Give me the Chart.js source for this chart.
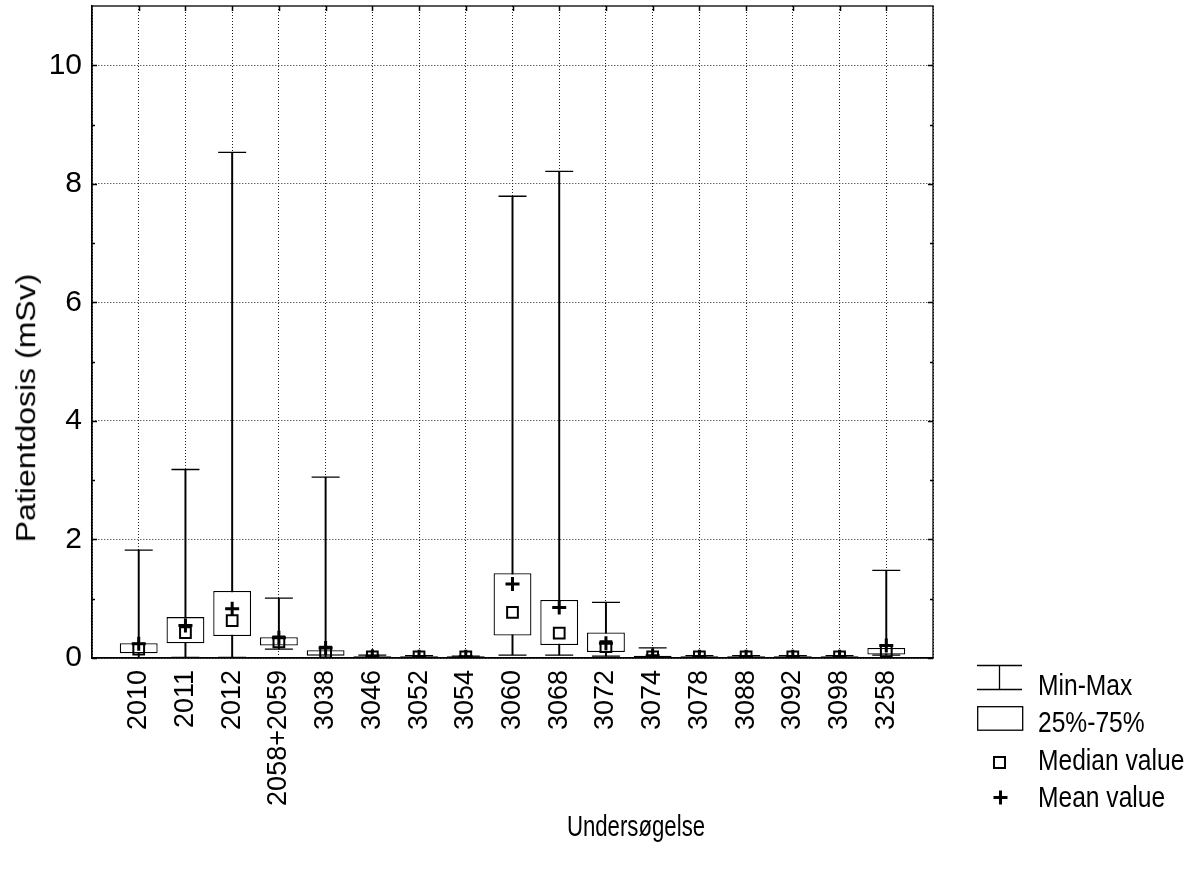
<!DOCTYPE html>
<html><head><meta charset="utf-8">
<script src="https://cdn.jsdelivr.net/npm/chart.js@4.4.1/dist/chart.umd.min.js"></script>
<style>
html,body{margin:0;padding:0;background:#fff;}
#wrap{position:relative;width:1199px;height:893px;overflow:hidden;}
#c{position:absolute;left:0;top:0;}
.t{position:absolute;color:#000;white-space:nowrap;line-height:30px;font-family:"Liberation Sans",Arial,sans-serif;}
.lg{font-size:30px;transform:scaleX(0.82);transform-origin:0 50%;}
.ic{position:absolute;}
</style></head><body>
<div id="wrap">
<canvas id="c" width="1199" height="893"></canvas>
<div class="t" style="font-size:32px;left:25px;top:408px;transform:translate(-50%,-50%) scaleX(0.88) rotate(-90deg);">Patientdosis (mSv)</div>
<div class="t" style="font-size:30px;left:636px;top:826px;transform:translate(-50%,-50%) scaleX(0.74);">Undersøgelse</div>

<svg class="ic" style="left:977px;top:664px" width="46" height="27"><path d="M0 1.5H45M22.5 1.5V25.5M0 25.5H45" stroke="#000" stroke-width="1.3" fill="none"/></svg>
<div class="t lg" style="left:1038px;top:670px;">Min-Max</div>
<svg class="ic" style="left:977px;top:706px" width="47" height="26"><rect x="0.7" y="0.7" width="45" height="23.5" stroke="#000" stroke-width="1.3" fill="none"/></svg>
<div class="t lg" style="left:1038px;top:707px;">25%-75%</div>
<svg class="ic" style="left:993px;top:756px" width="14" height="14"><rect x="1" y="1" width="11" height="11" stroke="#000" stroke-width="2" fill="none"/></svg>
<div class="t lg" style="left:1038px;top:745px;">Median value</div>
<svg class="ic" style="left:993px;top:790px" width="15" height="15"><path d="M7.5 0.5V14.5M0.5 7.5H14.5" stroke="#000" stroke-width="3" fill="none"/></svg>
<div class="t lg" style="left:1038px;top:782px;">Mean value</div>
</div>
<script>
const categories = ['2010','2011','2012','2058+2059','3038','3046','3052','3054','3060','3068','3072','3074','3078','3088','3092','3098','3258'];
const minVals    = [0.00, 0.01, 0.01, 0.15, 0.00, 0.00, 0.00, 0.00, 0.05, 0.05, 0.03, 0.00, 0.00, 0.00, 0.00, 0.00, 0.05];
const q1Vals     = [0.08, 0.25, 0.37, 0.21, 0.04, 0.01, 0.01, 0.01, 0.38, 0.22, 0.10, 0.01, 0.01, 0.01, 0.01, 0.01, 0.06];
const medianVals = [0.15, 0.43, 0.63, 0.27, 0.10, 0.02, 0.02, 0.02, 0.77, 0.42, 0.19, 0.02, 0.02, 0.02, 0.02, 0.02, 0.11];
const meanVals   = [0.24, 0.55, 0.83, 0.34, 0.17, 0.03, 0.02, 0.02, 1.25, 0.85, 0.25, 0.04, 0.02, 0.02, 0.02, 0.02, 0.21];
const q3Vals     = [0.25, 0.69, 1.13, 0.35, 0.13, 0.03, 0.03, 0.03, 1.43, 0.98, 0.43, 0.04, 0.03, 0.03, 0.03, 0.03, 0.17];
const maxVals    = [1.82, 3.18, 8.53, 1.01, 3.05, 0.05, 0.04, 0.03, 7.79, 8.21, 0.94, 0.17, 0.04, 0.04, 0.04, 0.04, 1.48];
const yTickValues = [0, 2, 4, 6, 8, 10];
const yMinorValues = [1, 3, 5, 7, 9];

const labels = ['', ...categories, ''];
const pad = a => [null, ...a, null];
const boxData = categories.map((c, i) => [q1Vals[i], q3Vals[i]]);
const whiskerData = categories.map((c, i) => [minVals[i], maxVals[i]]);

const REG = '"Liberation Sans", Arial, sans-serif';

const frame = {
  id: 'frame',
  afterDraw(chart) {
    const {ctx, chartArea: a, scales} = chart;
    ctx.save();
    ctx.strokeStyle = '#000';
    ctx.lineWidth = 1.3;
    ctx.strokeRect(a.left, a.top, a.right - a.left, a.bottom - a.top);
    ctx.lineWidth = 1.5;
    ctx.beginPath();
    yTickValues.forEach(v => {
      const y = Math.round(scales.y.getPixelForValue(v)) + 0.5;
      ctx.moveTo(a.left, y); ctx.lineTo(a.left + 5, y);
      ctx.moveTo(a.right, y); ctx.lineTo(a.right - 5, y);
    });
    yMinorValues.forEach(v => {
      const y = Math.round(scales.y.getPixelForValue(v)) + 0.5;
      ctx.moveTo(a.left, y); ctx.lineTo(a.left + 3, y);
      ctx.moveTo(a.right, y); ctx.lineTo(a.right - 3, y);
    });
    categories.forEach((c, i) => {
      const x = Math.round(scales.x.getPixelForValue(i + 1)) + 0.5;
      ctx.moveTo(x, a.top); ctx.lineTo(x, a.top + 5);
    });
    ctx.stroke();
    ctx.restore();
  }
};

new Chart(document.getElementById('c'), {
  type: 'bar',
  data: {
    labels,
    datasets: [
      {type: 'line', label: 'Mean value', data: pad(meanVals), showLine: false, pointStyle: 'cross',
       pointRadius: 7, pointBorderWidth: 3, borderColor: '#000', backgroundColor: '#000', order: 0},
      {type: 'line', label: 'Median value', data: pad(medianVals), showLine: false, pointStyle: 'rect',
       pointRadius: 7.6, pointBorderWidth: 2, borderColor: '#000', backgroundColor: 'rgba(0,0,0,0)', order: 1},
      {type: 'line', label: 'Max', data: pad(maxVals), showLine: false, pointStyle: 'line',
       pointRadius: 14, pointBorderWidth: 1.3, borderColor: '#000', order: 2},
      {type: 'line', label: 'Min', data: pad(minVals), showLine: false, pointStyle: 'line',
       pointRadius: 14, pointBorderWidth: 1.3, borderColor: '#000', order: 2},
      {type: 'bar', label: '25%-75%', data: pad(boxData), backgroundColor: '#fff', borderColor: '#000',
       borderWidth: 1.3, borderSkipped: false, grouped: false, barPercentage: 0.81, categoryPercentage: 1, order: 3},
      {type: 'bar', label: 'Min-Max', data: pad(whiskerData), backgroundColor: '#000', borderWidth: 0,
       grouped: false, barThickness: 1.3, order: 4}
    ]
  },
  options: {
    responsive: false,
    animation: false,
    events: [],
    devicePixelRatio: 1,
    layout: {autoPadding: false, padding: {left: 0, top: 6, right: 266, bottom: 0}},
    plugins: {legend: {display: false}, tooltip: {enabled: false}},
    scales: {
      x: {
        type: 'category', offset: false,
        grid: {offset: false, color: '#222', lineWidth: 1, drawTicks: false},
        border: {display: true, color: '#000', width: 1.3, dash: [1, 2]},
        ticks: {autoSkip: false, maxRotation: 90, minRotation: 90, padding: 12, color: '#000',
                font: {size: 27, family: REG}},
        afterFit(s) { s.height = 235; s.paddingLeft = 0; s.paddingRight = 0; }
      },
      y: {
        min: 0, max: 11,
        afterBuildTicks(s) { s.ticks = yTickValues.map(v => ({value: v})); },
        grid: {color: '#222', lineWidth: 1, drawTicks: false},
        border: {display: true, color: '#000', width: 1.3, dash: [1, 2]},
        ticks: {padding: 10, color: '#000', font: {size: 30, family: REG}},
        afterFit(s) { s.width = 92; s.paddingTop = 0; s.paddingBottom = 0; }
      }
    }
  },
  plugins: [frame]
});
</script>
</body></html>
